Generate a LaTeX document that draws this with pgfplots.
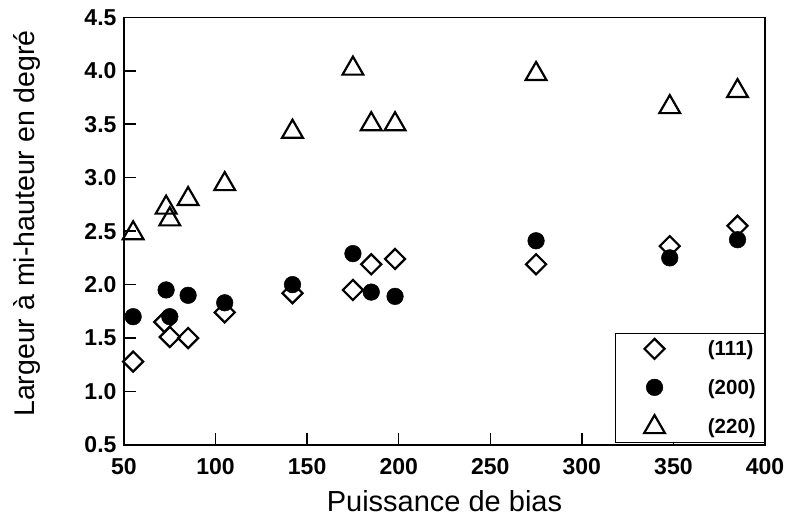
\documentclass[border=0pt]{standalone}
\usepackage{pgfplots}
\pgfplotsset{compat=1.18}
\usepackage{fontspec}
\setmainfont{Liberation Sans}
\pgfplotsset{mylegimg/.style={legend image code/.code={\draw[##1] plot coordinates {(0pt,0pt)}; \path (-30pt,-10pt) (20pt,10pt);}}}
\begin{document}
\begin{tikzpicture}
\begin{axis}[
  scale only axis,
  width=641pt, height=427.7pt,
  xmin=50, xmax=400, ymin=0.5, ymax=4.5,
  xtick={50,100,...,400},
  ytick={0.5,1,...,4.5},
  xtick pos=bottom, ytick pos=left,
  tick align=inside,
  major tick length=12pt,
  minor tick num=0,
  axis line style={line width=1.5pt},
  every tick/.style={black, line width=1.5pt},
  /pgf/number format/assume math mode=true,
  xticklabel style={font=\bfseries\fontsize{23}{23}\selectfont, yshift=-10pt},
  yticklabel style={font=\bfseries\fontsize{23}{23}\selectfont, xshift=-4pt,
    /pgf/number format/.cd, fixed, fixed zerofill, precision=1},
  xlabel={Puissance de bias},
  ylabel={Largeur à mi-hauteur en degré},
  xlabel style={font=\fontsize{29}{31}\selectfont, at={(rel axis cs:0.5,0)}, anchor=center, yshift=-56pt},
  ylabel style={font=\fontsize{28.5}{30}\selectfont, at={(rel axis cs:0,0.518)}, anchor=center, yshift=97pt},
  legend cell align=left,
  legend style={at={(rel axis cs:1,0)}, anchor=south east, yshift=1.7pt,
    draw=black, line width=1.5pt, inner xsep=8.5pt, inner ysep=4.7pt,
    row sep=17pt, column sep=32.6pt,
    font=\bfseries\fontsize{20.5}{20.5}\selectfont, nodes={inner sep=0pt}},
]
\coordinate (SW) at (rel axis cs:0,0);
\coordinate (NE) at (rel axis cs:1,1);

\addplot[only marks, mark=square, mark size=7.1pt,
  mark options={rotate=45, draw=black, fill=white, line width=2.2pt},
  mylegimg]
  coordinates {
  (55,1.28) (72,1.65) (75,1.51) (85,1.50) (105,1.74) (142,1.92)
  (175,1.95) (185,2.19) (198,2.24) (275,2.19) (348,2.36) (385,2.55)
  };
\addlegendentry{(111)}

\addplot[only marks, mark=*, mark size=8.3pt,
  mark options={draw=black, fill=black, line width=0.5pt},
  mylegimg]
  coordinates {
  (55,1.70) (73,1.95) (75,1.70) (85,1.90) (105,1.83) (142,2.00)
  (175,2.29) (185,1.93) (198,1.89) (275,2.41) (348,2.25) (385,2.42)
  };
\addlegendentry{(200)}

\addplot[only marks, mark=triangle, mark size=12pt,
  mark options={draw=black, fill=white, line width=2.2pt},
  mylegimg]
  coordinates {
  (55,2.48) (73,2.72) (75,2.61) (85,2.80) (105,2.94) (142,3.43)
  (175,4.02) (185,3.50) (198,3.50) (275,3.97) (348,3.66) (385,3.81)
  };
\addlegendentry{(220)}
\end{axis}
\pgfresetboundingbox
\path[use as bounding box] ([shift={(-124pt,-77pt)}]SW) rectangle ([shift={(22pt,17.3pt)}]NE);
\end{tikzpicture}
\end{document}
